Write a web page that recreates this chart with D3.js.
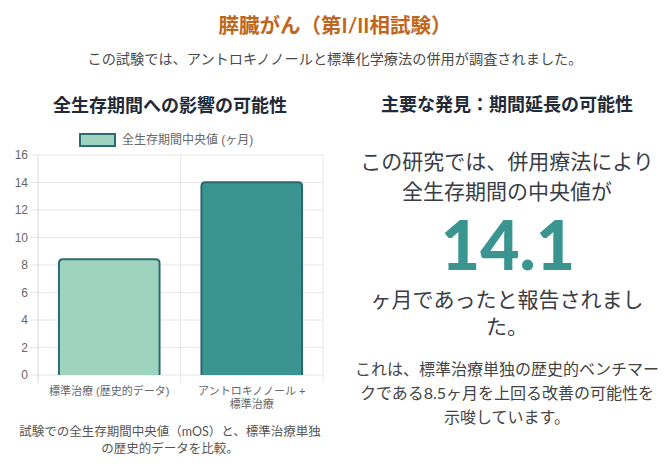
<!DOCTYPE html>
<html>
<head>
<meta charset="utf-8">
<script src="https://cdn.jsdelivr.net/npm/d3@7"></script>
<style>
  body { margin: 0; background: #fff; }
  svg text { font-family: Lato, "Noto Sans CJK JP", sans-serif; }
  .tick text, .chartText { font-family: "Liberation Sans", Arial, "Noto Sans CJK JP", sans-serif; }
</style>
</head>
<body>
<div class="chart"></div>
<script>
// data
var categories = ["標準治療 (歴史的データ)", "アントロキノノール + 標準治療"];
var categoryLines = [["標準治療 (歴史的データ)"], ["アントロキノノール +", "標準治療"]];
var osMonths = [8.5, 14.1];
var yTicks = [0, 2, 4, 6, 8, 10, 12, 14, 16];
var seriesName = "全生存期間中央値 (ヶ月)";
var barFills = ["#9ed4bd", "#3a9591"];
var barStrokes = ["#2c6a74", "#2a6670"];

var svgWidth = 670;
var svgHeight = 472;

var svg = d3.select(".chart")
  .append("svg")
  .attr("width", svgWidth)
  .attr("height", svgHeight);

// page header
svg.append("text")
  .attr("x", 335).attr("y", 25)
  .attr("text-anchor", "middle").attr("dominant-baseline", "central")
  .style("font-size", "20.5px").style("font-weight", "bold").style("fill", "#c0661c")
  .text("膵臓がん（第I/II相試験）");

svg.append("text")
  .attr("x", 335).attr("y", 58)
  .attr("text-anchor", "middle").attr("dominant-baseline", "central")
  .style("font-size", "14.2px").style("fill", "#4a4a4a")
  .text("この試験では、アントロキノノールと標準化学療法の併用が調査されました。");

// left panel
svg.append("text")
  .attr("x", 170).attr("y", 105)
  .attr("text-anchor", "middle").attr("dominant-baseline", "central")
  .style("font-size", "18px").style("font-weight", "bold").style("fill", "#222a38")
  .text("全生存期間への影響の可能性");

var plot = { left: 38, right: 323, top: 155, bottom: 375 };

var xScale = d3.scaleBand()
  .domain(categories)
  .range([plot.left, plot.right]);

var yScale = d3.scaleLinear()
  .domain([0, 16])
  .range([plot.bottom, plot.top]);

var chartGroup = svg.append("g");

// grid lines
chartGroup.selectAll(".hgrid").data(yTicks).enter()
  .append("line")
  .attr("x1", plot.left - 8).attr("x2", plot.right)
  .attr("y1", d => yScale(d)).attr("y2", d => yScale(d))
  .attr("stroke", "#e6e6e6").attr("stroke-width", 1);

var vLines = [plot.left, xScale(categories[1]), plot.right];
chartGroup.selectAll(".vgrid").data(vLines).enter()
  .append("line")
  .attr("x1", d => d).attr("x2", d => d)
  .attr("y1", plot.top).attr("y2", plot.bottom + 8)
  .attr("stroke", (d, i) => i === 0 ? "#d9d9d9" : "#e6e6e6").attr("stroke-width", 1);

// y axis labels
var leftAxis = d3.axisLeft(yScale).tickValues(yTicks).tickSize(0).tickPadding(10);
var yAxisG = chartGroup.append("g")
  .attr("transform", `translate(${plot.left}, 0)`)
  .call(leftAxis);
yAxisG.select(".domain").remove();
yAxisG.selectAll("text").style("font-size", "12px").style("fill", "#666");

// x axis labels (multi-line)
var xLabels = chartGroup.selectAll(".xlab").data(categories).enter()
  .append("text")
  .attr("class", "chartText")
  .attr("text-anchor", "middle")
  .style("font-size", "11px").style("fill", "#666");
xLabels.each(function(d, i) {
  var t = d3.select(this);
  categoryLines[i].forEach(function(line, j) {
    t.append("tspan")
      .attr("x", xScale(d) + xScale.bandwidth() / 2)
      .attr("y", 395 + j * 13)
      .text(line);
  });
});

// bars
var barW = xScale.bandwidth() * 0.72;
var r = 4;
function barTop(d, i) {
  var x0 = xScale(categories[i]) + (xScale.bandwidth() - barW) / 2 + 1;
  var x1 = x0 + barW - 2;
  var y0 = yScale(d) + 1;
  var yb = yScale(0);
  return { x0: x0, x1: x1, y0: y0, yb: yb };
}
chartGroup.selectAll(".bar").data(osMonths).enter()
  .append("path")
  .attr("d", function(d, i) {
    var b = barTop(d, i);
    return `M${b.x0},${b.yb} L${b.x0},${b.y0 + r} Q${b.x0},${b.y0} ${b.x0 + r},${b.y0} L${b.x1 - r},${b.y0} Q${b.x1},${b.y0} ${b.x1},${b.y0 + r} L${b.x1},${b.yb} Z`;
  })
  .attr("fill", (d, i) => barFills[i]);

chartGroup.selectAll(".barEdge").data(osMonths).enter()
  .append("path")
  .attr("d", function(d, i) {
    var b = barTop(d, i);
    return `M${b.x0},${b.yb} L${b.x0},${b.y0 + r} Q${b.x0},${b.y0} ${b.x0 + r},${b.y0} L${b.x1 - r},${b.y0} Q${b.x1},${b.y0} ${b.x1},${b.y0 + r} L${b.x1},${b.yb}`;
  })
  .attr("fill", "none")
  .attr("stroke", (d, i) => barStrokes[i])
  .attr("stroke-width", 2);

// legend
svg.append("rect")
  .attr("x", 80).attr("y", 134).attr("width", 35).attr("height", 12)
  .attr("fill", barFills[0]).attr("stroke", barStrokes[0]).attr("stroke-width", 2);
svg.append("text")
  .attr("class", "chartText")
  .attr("x", 122).attr("y", 140)
  .attr("dominant-baseline", "central")
  .style("font-size", "12px").style("fill", "#666")
  .text(seriesName);

// caption
var captionLines = ["試験での全生存期間中央値（mOS）と、標準治療単独", "の歴史的データを比較。"];
svg.selectAll(".cap").data(captionLines).enter()
  .append("text")
  .attr("x", 170).attr("y", (d, i) => 431 + i * 17)
  .attr("text-anchor", "middle").attr("dominant-baseline", "central")
  .style("font-size", "12.5px").style("fill", "#555")
  .text(d => d);

// right panel
var cx = 507;
svg.append("text")
  .attr("x", cx).attr("y", 104)
  .attr("text-anchor", "middle").attr("dominant-baseline", "central")
  .style("font-size", "18px").style("font-weight", "bold").style("fill", "#222a38")
  .text("主要な発見：期間延長の可能性");

var leadLines = ["この研究では、併用療法により", "全生存期間の中央値が"];
svg.selectAll(".lead").data(leadLines).enter()
  .append("text")
  .attr("x", cx).attr("y", (d, i) => 160 + i * 30)
  .attr("text-anchor", "middle").attr("dominant-baseline", "central")
  .style("font-size", "21px").style("fill", "#3a3d45")
  .text(d => d);

svg.append("text")
  .attr("x", cx + 1).attr("y", 270)
  .attr("text-anchor", "middle")
  .style("font-size", "68px").style("font-weight", "900").style("fill", barFills[1])
  .text(osMonths[1].toFixed(1));

var tailLines = ["ヶ月であったと報告されまし", "た。"];
svg.selectAll(".tail").data(tailLines).enter()
  .append("text")
  .attr("x", cx).attr("y", (d, i) => 298 + i * 27)
  .attr("text-anchor", "middle").attr("dominant-baseline", "central")
  .style("font-size", "21px").style("fill", "#3a3d45")
  .text(d => d);

var noteLines = ["これは、標準治療単独の歴史的ベンチマー", "クである" + osMonths[0] + "ヶ月を上回る改善の可能性を", "示唆しています。"];
svg.selectAll(".note").data(noteLines).enter()
  .append("text")
  .attr("x", cx).attr("y", (d, i) => 368 + i * 24)
  .attr("text-anchor", "middle").attr("dominant-baseline", "central")
  .style("font-size", "16px").style("fill", "#444")
  .text(d => d);
</script>
</body>
</html>
